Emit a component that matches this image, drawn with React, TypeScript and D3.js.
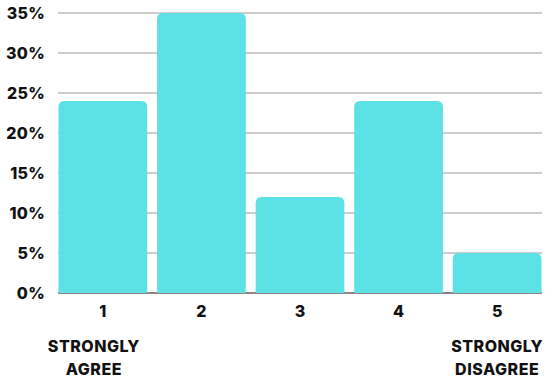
import React from "react";
import * as d3 from "d3";

// Survey response distribution on a 1–5 agreement scale
const categories = ["1", "2", "3", "4", "5"];
const shares = [24, 35, 12, 24, 5];
const yTicks = [0, 5, 10, 15, 20, 25, 30, 35];
const endLabels = [
  { category: "1", lines: ["STRONGLY", "AGREE"] },
  { category: "5", lines: ["STRONGLY", "DISAGREE"] },
];

const W = 546;
const H = 381;
const FONT = "Inter, 'DejaVu Sans', sans-serif";
const BAR = "#5ce1e6";

function topRoundedBar(x: number, y: number, w: number, h: number, r: number) {
  const rr = Math.min(r, h, w / 2);
  return `M${x},${y + h}V${y + rr}Q${x},${y} ${x + rr},${y}H${x + w - rr}Q${x + w},${y} ${x + w},${y + rr}V${y + h}Z`;
}

export default function App() {
  const x = d3
    .scaleBand<string>()
    .domain(categories)
    .range([58.5, 541.5])
    .paddingInner(0.1)
    .paddingOuter(0);
  const y = d3.scaleLinear().domain([0, 35]).range([293, 13]);

  return (
    <svg
      width={W}
      height={H}
      style={{ position: "absolute", left: 0, top: 0, background: "#fff" }}
    >
      {/* grid */}
      {yTicks.map((t) => (
        <line
          key={t}
          x1={58}
          x2={542}
          y1={y(t)}
          y2={y(t)}
          stroke={t === 0 ? "#6b5a55" : "#bdbdbd"}
          strokeWidth={1.5}
        />
      ))}
      {/* y tick labels */}
      {yTicks.map((t) => (
        <text
          key={"l" + t}
          x={45}
          y={y(t)}
          dy="0.36em"
          textAnchor="end"
          fontFamily={FONT}
          fontWeight={800}
          fontSize={16}
          letterSpacing={0.3}
          fill="#111"
        >
          {t}%
        </text>
      ))}
      {/* bars */}
      {categories.map((c, i) => (
        <path
          key={c}
          d={topRoundedBar(x(c)!, y(shares[i]), x.bandwidth(), y(0) - y(shares[i]), 6)}
          fill={BAR}
        />
      ))}
      {/* category labels */}
      {categories.map((c) => (
        <text
          key={"c" + c}
          x={x(c)! + x.bandwidth() / 2}
          y={311}
          dy="0.36em"
          textAnchor="middle"
          fontFamily={FONT}
          fontWeight={800}
          fontSize={16}
          fill="#111"
        >
          {c}
        </text>
      ))}
      {/* scale end descriptions */}
      {endLabels.map((e, k) => {
        const cx = x(e.category)! + x.bandwidth() / 2 + (k === 0 ? -9 : 0);
        return e.lines.map((ln, j) => (
          <text
            key={e.category + ln}
            x={cx}
            y={346.5 + j * 22.5}
            dy="0.36em"
            textAnchor="middle"
            fontFamily={FONT}
            fontWeight={800}
            fontSize={16}
            letterSpacing={0.5}
            fill="#111"
          >
            {ln}
          </text>
        ));
      })}
    </svg>
  );
}
